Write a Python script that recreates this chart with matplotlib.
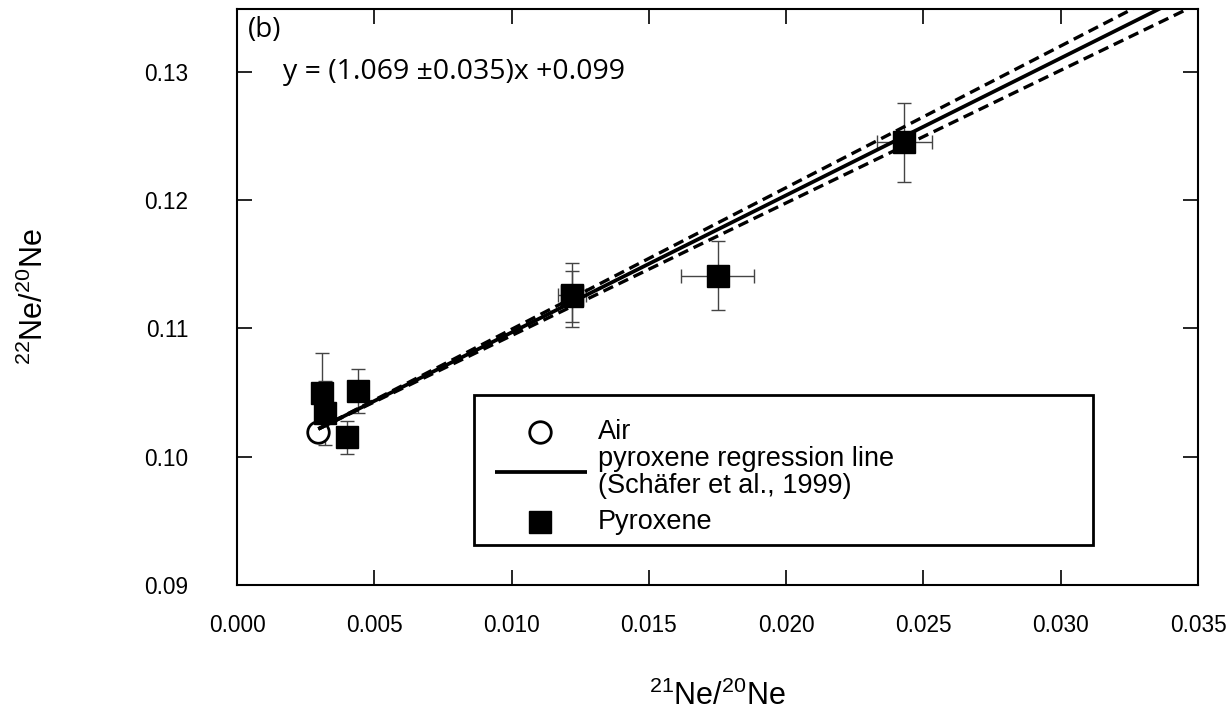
import matplotlib
matplotlib.use("Agg")
import matplotlib.pyplot as plt
from matplotlib.patches import Rectangle
import numpy as np

plt.rcParams['font.family'] = ['Liberation Sans', 'DejaVu Sans']
plt.rcParams['mathtext.fontset'] = 'custom'
plt.rcParams['mathtext.rm'] = 'Liberation Sans'
plt.rcParams['mathtext.default'] = 'regular'

# Data
air_x = [0.00296]
air_y = [0.1019]

pyx_x = [0.0031, 0.0032, 0.0044, 0.0040, 0.0122, 0.0122, 0.0175, 0.0243]
pyx_y = [0.1050, 0.1034, 0.1051, 0.1015, 0.1126, 0.1125, 0.1141, 0.1245]
pyx_yerr = [0.0031, 0.0025, 0.0017, 0.0013, 0.0025, 0.0020, 0.0027, 0.0031]
pyx_xerr = [0.0001, 0.0001, 0.0001, 0.0001, 0.0005, 0.0003, 0.00133, 0.0010]

slope = 1.069
slope_err = 0.035
intercept = 0.099
line_x_start = 0.00296
line_x_end = 0.035

xticks = [0.000, 0.005, 0.010, 0.015, 0.020, 0.025, 0.030, 0.035]
yticks = [0.09, 0.10, 0.11, 0.12, 0.13]

legend_labels = ['Air', 'pyroxene regression line\n(Schäfer et al., 1999)', 'Pyroxene']

fig = plt.figure(figsize=(12.27, 7.18), dpi=100)
ax = fig.add_axes([0.1932, 0.1852, 0.7832, 0.8023])

# regression lines
lx = np.linspace(line_x_start, line_x_end, 200)
ly = slope * lx + intercept
x0 = line_x_start
y0 = slope * x0 + intercept
ax.plot(lx, ly, color='black', lw=2.7, zorder=3, solid_capstyle='butt')
ax.plot(lx, (slope + slope_err) * (lx - x0) + y0, color='black', lw=2.4,
        dashes=(3.2, 1.8), zorder=3)
ax.plot(lx, (slope - slope_err) * (lx - x0) + y0, color='black', lw=2.4,
        dashes=(3.2, 1.8), zorder=3)

# errorbars
ax.errorbar(pyx_x, pyx_y, yerr=pyx_yerr, xerr=pyx_xerr, fmt='none',
            ecolor='#444444', elinewidth=1.0, capsize=5, capthick=1.0, zorder=2)
ax.plot(air_x, air_y, 'o', ms=15.5, mfc='white', mec='black', mew=2.0, zorder=2.5)
ax.plot(pyx_x, pyx_y, 's', ms=15.5, color='black', zorder=4)

ax.set_xlim(0.0, 0.035)
ax.set_ylim(0.09, 0.1349)
ax.set_xticks(xticks)
ax.set_yticks(yticks)
ax.set_xticklabels([f"{v:.3f}" for v in xticks])
ax.set_yticklabels([f"{v:.2f}" for v in yticks])
ax.tick_params(direction='in', length=11, width=1.2, top=True, right=True,
               labelsize=16.3)
ax.tick_params(axis='x', pad=21)
ax.tick_params(axis='y', pad=35)
for s in ax.spines.values():
    s.set_linewidth(1.5)

ax.set_xlabel(r'$^{21}$Ne/$^{20}$Ne', fontsize=22, labelpad=31)
ax.set_ylabel(r'$^{22}$Ne/$^{20}$Ne', fontsize=22, labelpad=68)

ax.text(0.0114, 0.9635, '(b)', transform=ax.transAxes, fontsize=20,
        family=['Open Sans', 'DejaVu Sans'], va='center', ha='left')
ax.text(0.0479, 0.8906, 'y = (1.069 \u00b10.035)x +0.099', transform=ax.transAxes,
        fontsize=20.5, family=['Open Sans', 'DejaVu Sans'], va='center', ha='left')

# legend box (drawn manually in axes-fraction coordinates)
tr = ax.transAxes
ax.add_patch(Rectangle((0.2466, 0.0694), 0.6441, 0.2605, transform=tr,
                       facecolor='white', edgecolor='black', lw=2.0, zorder=6))
ax.plot([0.3153], [0.2656], 'o', ms=15.5, mfc='white', mec='black', mew=2.0,
        transform=tr, zorder=7, clip_on=False)
ax.plot([0.2685, 0.3642], [0.1962, 0.1962], color='black', lw=2.7,
        transform=tr, zorder=7, solid_capstyle='butt')
ax.plot([0.3153], [0.1094], 's', ms=15.5, color='black', transform=tr,
        zorder=7, clip_on=False)
ax.text(0.3757, 0.2656, legend_labels[0], transform=tr, fontsize=19.5,
        va='center', ha='left', zorder=8)
ax.text(0.3757, 0.1960, legend_labels[1], transform=tr, fontsize=19.5,
        va='center', ha='left', linespacing=1.05, zorder=8)
ax.text(0.3757, 0.1094, legend_labels[2], transform=tr, fontsize=19.5,
        va='center', ha='left', zorder=8)

fig.savefig('out.png', dpi=100)
